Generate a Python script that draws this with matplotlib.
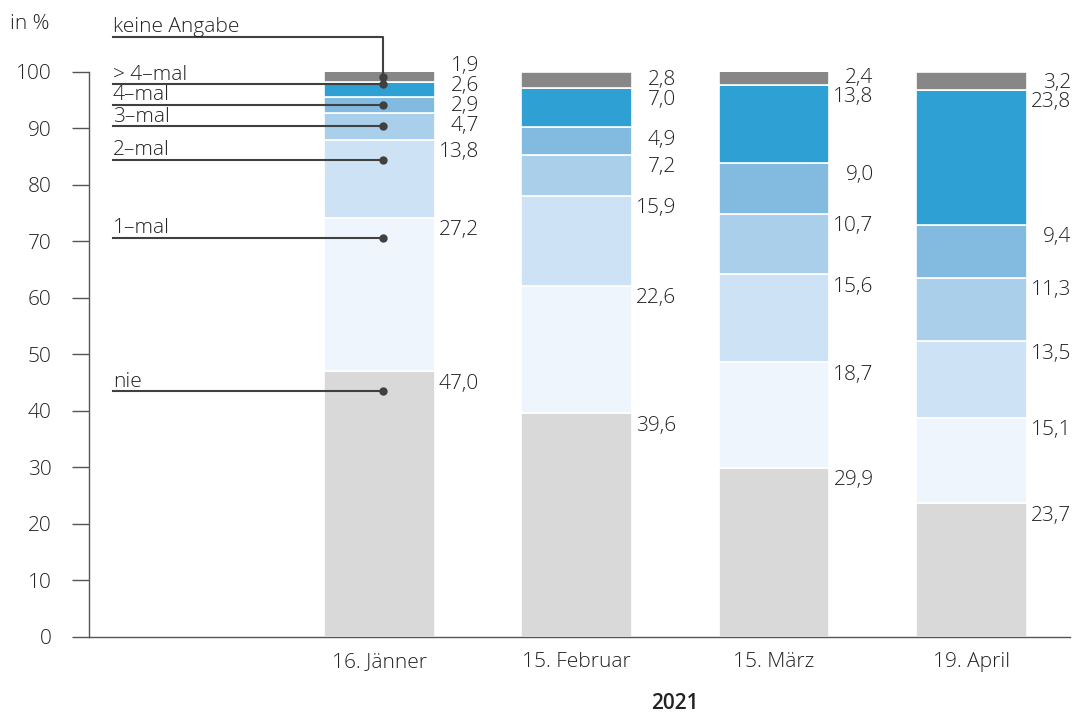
import matplotlib.pyplot as plt
import numpy as np

plt.rcParams['font.family'] = ['Open Sans', 'DejaVu Sans']
plt.rcParams['font.weight'] = 'light'

dates = ["16. Jänner", "15. Februar", "15. März", "19. April"]
categories = ["nie", "1–mal", "2–mal", "3–mal", "4–mal", "> 4–mal", "keine Angabe"]
nie = [47.0, 39.6, 29.9, 23.7]
mal1 = [27.2, 22.6, 18.7, 15.1]
mal2 = [13.8, 15.9, 15.6, 13.5]
mal3 = [4.7, 7.2, 10.7, 11.3]
mal4 = [2.9, 4.9, 9.0, 9.4]
mal_more = [2.6, 7.0, 13.8, 23.8]
keine = [1.9, 2.8, 2.4, 3.2]
colors = ["#d9d9d9", "#eef5fc", "#cde2f5", "#a9cfea", "#83bbe0", "#2ea0d3", "#878787"]

series = np.array([nie, mal1, mal2, mal3, mal4, mal_more, keine])
x = np.arange(1, len(dates) + 1)
width = 0.56
fs = 15
text_col = "#222222"
line_col = "#404040"

fig = plt.figure(figsize=(10.8, 7.13), dpi=100)
ax = fig.add_axes([0.0824, 0.1066, 0.9083, 0.7925])

bottoms = np.zeros(len(dates))
label_y = np.zeros_like(series)
for i, vals in enumerate(series):
    ax.bar(x, vals, width, bottom=bottoms, color=colors[i],
           edgecolor="white", linewidth=1.2, zorder=2)
    bottoms = bottoms + vals
    label_y[i] = bottoms - 2.2

# spread labels so they do not overlap
for i in range(1, len(series)):
    label_y[i] = np.maximum(label_y[i], label_y[i - 1] + 3.5)

for i, vals in enumerate(series):
    for j in range(len(dates)):
        ax.text(x[j] + width / 2 + 0.225, label_y[i, j],
                f"{vals[j]:.1f}".replace(".", ","), ha="right", va="center",
                fontsize=fs, color=text_col, clip_on=False)

# legend with leader lines to first bar
x_leg = -0.35
x_dot = x[0] + 0.02
tops = np.cumsum(series[:, 0])
dot_y = np.maximum(tops - series[:, 0] / 2, tops - 3.5)
for i in range(1, len(categories) - 1):
    dot_y[i] = max(dot_y[i], dot_y[i - 1] + 3.7)

for i, cat in enumerate(categories):
    y_dot = dot_y[i]
    if cat == "keine Angabe":
        y_line = 106.2
        ax.plot([x_leg, x_dot, x_dot], [y_line, y_line, y_dot],
                color=line_col, lw=1.5, clip_on=False, zorder=3)
    else:
        y_line = y_dot
        ax.plot([x_leg, x_dot], [y_line, y_line], color=line_col, lw=1.5,
                clip_on=False, zorder=3)
    ax.plot(x_dot, y_dot, "o", color=line_col, ms=5, clip_on=False, zorder=4)
    ax.text(x_leg, y_line + 0.8, cat, ha="left", va="baseline", fontsize=fs,
            color=text_col, clip_on=False)

ax.set_xlim(-0.472, 4.5)
ax.set_ylim(0, 100)
ax.set_yticks(np.arange(0, 101, 10))
ax.set_xticks(x)
ax.set_xticklabels(dates)
ax.tick_params(axis="y", length=12, width=1, color="#555555", pad=15,
               labelsize=fs, labelcolor=text_col)
ax.tick_params(axis="x", length=0, pad=11, labelsize=fs, labelcolor=text_col)
for s in ["top", "right"]:
    ax.spines[s].set_visible(False)
for s in ["left", "bottom"]:
    ax.spines[s].set_color("#555555")
    ax.spines[s].set_linewidth(1)

ax.text(-0.04, 1.085, "in %", transform=ax.transAxes, ha="right", va="center",
        fontsize=fs, color=text_col)
ax.text(2.5, -0.117, "2021", transform=ax.get_xaxis_transform(), ha="center",
        va="center", fontsize=fs, fontweight="semibold", color=text_col)

fig.savefig("out.png", dpi=100)
